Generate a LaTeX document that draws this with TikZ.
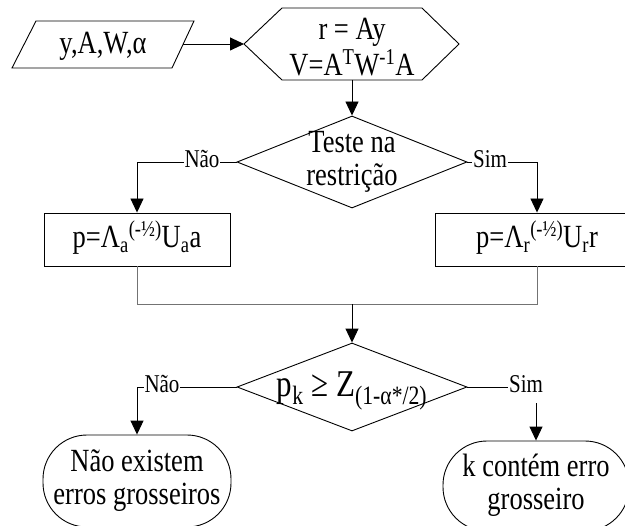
\documentclass[tikz,border=0pt]{standalone}
\usepackage{fontspec}
\setmainfont{Liberation Serif}
\usetikzlibrary{arrows.meta,shapes.geometric}
% text in this chart is set slightly taller than wide
\newcommand\tallbox[1]{\scalebox{1}[1.22]{\begin{tabular}{@{}c@{}}#1\end{tabular}}}
\begin{document}
\begin{tikzpicture}[x=1bp,y=-1bp,
  every node/.style={font=\fontsize{26.5bp}{27bp}\selectfont, align=center},
  line/.style={draw=black, line width=0.9bp},
  arrow/.style={line, -{Triangle[length=14bp,width=13bp]}},
  merge/.style={draw=black!55, line width=0.9bp},
  answer/.style={font=\fontsize{21bp}{24bp}\selectfont, fill=white, inner sep=1bp, minimum height=26bp},
  procbox/.style={draw, line width=0.9bp, minimum height=53bp, inner sep=0pt},
  decision/.style={diamond, draw, line width=0.9bp, minimum width=230bp, inner sep=0pt},
  terminal/.style={draw, line width=0.9bp, rounded corners=44bp, inner sep=0pt}
]
\useasboundingbox (0,0) rectangle (625,526);

% input data (parallelogram)
\draw[line] (12,68) -- (36,21) -- (194,21) -- (172,68) -- cycle;
\node (inp) at (103,47) {\tallbox{y,A,W,α}};
\coordinate (inR) at (183,44);

% preparation step (hexagon)
\draw[line] (244,44) coordinate (hexL) -- (282,8) -- (422,8) -- (459,44)
  -- (422,80) -- (282,80) -- cycle;
\coordinate (hexB) at (352,80);
\node (calc) at (352,51) {\tallbox{r = Ay\\V=A\textsuperscript{T}W\textsuperscript{-1}A}};

% first decision
\node[decision, minimum height=92bp] (test) at (352,162) {};
\node (testtxt) at (test.center) {\tallbox{Teste na\\restrição}};

% normalised residuals
\node[procbox, minimum width=186bp] (pa) at (137,239.5)
  {\tallbox{p=Λ\textsubscript{a}\textsuperscript{(-½)}U\textsubscript{a}a}};
\node[procbox, minimum width=204bp] (pr) at (537,239.5)
  {\tallbox{p=Λ\textsubscript{r}\textsuperscript{(-½)}U\textsubscript{r}r}};

% second decision
\node[decision, minimum height=88bp] (crit) at (352,387) {};
\node[font=\fontsize{31bp}{34bp}\selectfont] (crittxt) at (352,389)
  {\tallbox{p\textsubscript{k} ≥ Z\textsubscript{(1-α*/2)}}};

% outcomes
\node[terminal, minimum width=188bp, minimum height=92bp] (none) at (137,481)
  {\tallbox{Não existem\\erros grosseiros}};
\node[terminal, minimum width=186bp, minimum height=90bp] (gross) at (536,486)
  {\tallbox{k contém erro\\grosseiro}};

% connectors
\draw[arrow] (inR) -- (hexL);
\draw[arrow] (hexB) -- (test.north);
\draw[arrow] (test.west) -- (pa.north |- test.west) -- (pa.north);
\node[answer] (no1) at (202,162) {\tallbox{Não}};
\draw[arrow] (test.east) -- (pr.north |- test.east) -- (pr.north);
\node[answer] (yes1) at (490,162) {\tallbox{Sim}};

\coordinate (join) at (352,304);
\draw[merge] (pa.south) -- (pa.south |- join) -- (pr.south |- join) -- (pr.south);
\draw[arrow] (join) -- (crit.north);

\draw[arrow] (crit.west) -- (none.north |- crit.west) -- (none.north);
\node[answer] (no2) at (162,387) {\tallbox{Não}};
\draw[arrow] (crit.east) -- (gross.north |- crit.east) -- (gross.north);
\node[answer] (yes2) at (526,387) {\tallbox{Sim}};
\end{tikzpicture}
\end{document}
